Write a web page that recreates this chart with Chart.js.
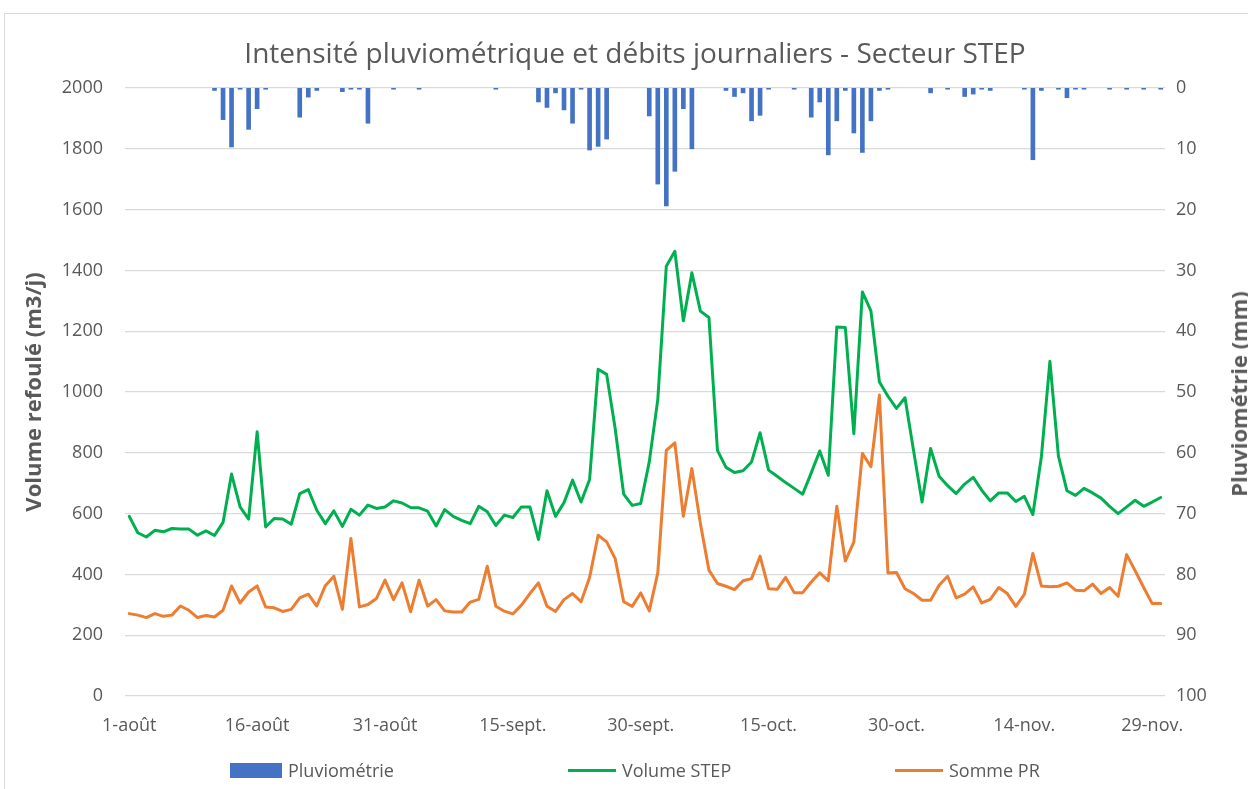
<!DOCTYPE html>
<html lang="fr">
<head>
<meta charset="utf-8">
<title>Intensité pluviométrique et débits journaliers - Secteur STEP</title>
<script src="https://cdn.jsdelivr.net/npm/chart.js@4.4.1/dist/chart.umd.min.js"></script>
<style>
  html, body { margin: 0; padding: 0; background: #fff; overflow: hidden; }
  #wrap { position: relative; width: 1248px; height: 789px; }
  #frame { position: absolute; left: 4px; top: 13px; width: 1400px; height: 900px; border: 1px solid #d9d9d9; box-sizing: border-box; }
  #my-chart { position: absolute; left: 0; top: 0; }
  #titre-droite { position: absolute; left: 1238px; top: 394px; transform: translate(-50%, -50%) rotate(-90deg);
    font: bold 22px "Open Sans", sans-serif; color: #595959; white-space: nowrap; }
  .legende { position: absolute; top: 758px; height: 24px; display: flex; align-items: center;
    font: 18px "Open Sans", sans-serif; color: #595959; white-space: nowrap; }
  .legende .marque { margin-right: 6px; }
</style>
</head>
<body>
<div id="wrap">
  <div id="frame"></div>
  <canvas id="my-chart" width="1248" height="789"></canvas>
  <div id="titre-droite">Pluviométrie (mm)</div>
  <div id="legende-zone"></div>
</div>
<script>
// jours du 1er août au 30 novembre
const mois = [['août', 31], ['sept.', 30], ['oct.', 31], ['nov.', 30]];
const jours = [];
mois.forEach(([nom, n]) => { for (let d = 1; d <= n; d++) jours.push(d + '-' + nom); });
const pasEtiquettes = 15; // une étiquette tous les 15 jours

// pluie journalière (mm)
const pluviometrie = [
  0, 0, 0, 0, 0, 0, 0, 0, 0, 0,
  0.4, 5.2, 9.7, 0.2, 6.8, 3.4, 0.2, 0, 0, 0,
  4.8, 1.5, 0.4, 0, 0, 0.6, 0.2, 0.2, 5.8, 0,
  0, 0.2, 0, 0, 0.2, 0, 0, 0, 0, 0,
  0, 0, 0, 0.2, 0, 0, 0, 0, 2.3, 3.2,
  0.8, 3.6, 5.8, 0.2, 10.2, 9.6, 8.4, 0, 0, 0,
  0, 4.6, 15.8, 19.4, 13.7, 3.4, 10.0, 0, 0, 0,
  0.4, 1.4, 0.8, 5.4, 4.5, 0.2, 0, 0, 0.2, 0,
  4.8, 2.3, 11.0, 5.4, 0.4, 7.4, 10.6, 5.4, 0.4, 0.2,
  0, 0, 0, 0, 0.8, 0, 0.2, 0, 1.4, 1.0,
  0.2, 0.4, 0, 0, 0, 0.2, 11.8, 0.4, 0, 0.2,
  1.6, 0.2, 0.2, 0, 0, 0.2, 0, 0.2, 0, 0.2,
  0, 0.2
];

// volume refoulé à la STEP (m3/j)
const volumeStep = [
  591, 537, 523, 545, 540, 551, 549, 549, 529, 543,
  528, 571, 730, 622, 582, 869, 556, 584, 582, 565,
  666, 679, 611, 567, 609, 558, 614, 595, 628, 617,
  622, 642, 635, 620, 619, 608, 559, 613, 591, 578,
  567, 624, 606, 561, 595, 587, 622, 622, 515, 675,
  591, 636, 710, 638, 712, 1075, 1058, 880, 664, 627,
  633, 770, 975, 1414, 1463, 1234, 1392, 1266, 1245, 808,
  752, 735, 741, 770, 866, 743, 723, 702, 683, 664,
  734, 806, 726, 1214, 1212, 863, 1329, 1267, 1033, 986,
  946, 981, 808, 638, 814, 723, 692, 666, 697, 719,
  677, 642, 668, 668, 640, 657, 597, 787, 1101, 789,
  675, 660, 683, 668, 651, 624, 600, 622, 644, 624,
  638, 653
];

// somme des postes de refoulement (m3/j)
const sommePR = [
  271, 266, 258, 271, 262, 266, 296, 282, 258, 265,
  260, 282, 362, 306, 342, 362, 293, 290, 278, 285,
  323, 335, 296, 363, 394, 285, 518, 293, 301, 321,
  381, 317, 372, 277, 381, 296, 317, 280, 276, 276,
  309, 318, 427, 295, 279, 270, 299, 337, 372, 295,
  278, 317, 337, 310, 390, 529, 507, 452, 310, 295,
  339, 280, 405, 808, 833, 591, 748, 567, 414, 370,
  361, 350, 379, 386, 460, 353, 351, 390, 340, 340,
  375, 405, 379, 624, 444, 507, 798, 754, 990, 405,
  406, 353, 337, 315, 315, 364, 394, 323, 335, 359,
  306, 318, 357, 337, 295, 334, 469, 362, 359, 361,
  372, 348, 346, 368, 337, 357, 328, 465, 412, 357,
  304, 304
];

Chart.defaults.font.family = '"Open Sans", sans-serif';
Chart.defaults.color = '#595959';

const ctx = document.getElementById('my-chart').getContext('2d');
const chart = new Chart(ctx, {
  data: {
    labels: jours,
    datasets: [
      {
        type: 'line',
        label: 'Volume STEP',
        data: volumeStep,
        yAxisID: 'y',
        borderColor: '#00B050',
        backgroundColor: '#00B050',
        borderWidth: 3,
        pointRadius: 0,
        borderJoinStyle: 'round',
        borderCapStyle: 'round',
        order: 1
      },
      {
        type: 'line',
        label: 'Somme PR',
        data: sommePR,
        yAxisID: 'y',
        borderColor: '#ED7D31',
        backgroundColor: '#ED7D31',
        borderWidth: 3,
        pointRadius: 0,
        borderJoinStyle: 'round',
        borderCapStyle: 'round',
        order: 2
      },
      {
        type: 'bar',
        label: 'Pluviométrie',
        // les jours sans pluie ne dessinent rien
        data: pluviometrie.map(v => (v > 0 ? v : null)),
        yAxisID: 'yPluie',
        backgroundColor: '#4472C4',
        barThickness: 4,
        order: 3
      }
    ]
  },
  options: {
    responsive: false,
    animation: false,
    layout: { padding: { left: 22, right: 0, top: 0, bottom: 48 } },
    plugins: {
      legend: { display: false },
      tooltip: { enabled: false },
      title: {
        display: true,
        text: 'Intensité pluviométrique et débits journaliers - Secteur STEP',
        font: { size: 28, weight: 'normal' },
        color: '#595959',
        padding: { top: 38, bottom: 16.4 }
      }
    },
    scales: {
      x: {
        type: 'category',
        offset: true,
        grid: { display: false },
        border: { display: false },
        ticks: {
          autoSkip: false,
          maxRotation: 0,
          padding: 11,
          font: { size: 18 },
          callback: (val, i) => (i % pasEtiquettes === 0 ? jours[i] : null)
        },
        afterFit: (scale) => { scale.height = 45; }
      },
      y: {
        position: 'left',
        min: 0,
        max: 2000,
        ticks: { stepSize: 200, padding: 22, font: { size: 18 }, callback: (v) => String(v) },
        grid: { color: '#d9d9d9', lineWidth: 1.3, drawTicks: false },
        border: { display: false },
        title: {
          display: true,
          text: 'Volume refoulé (m3/j)',
          font: { size: 22, weight: 'bold' },
          color: '#595959',
          padding: { top: 0, bottom: 0 }
        },
        afterFit: (scale) => { scale.width = 103; }
      },
      yPluie: {
        position: 'right',
        min: 0,
        max: 100,
        reverse: true,
        ticks: { stepSize: 10, padding: 11, font: { size: 18 } },
        grid: { display: false, drawTicks: false },
        border: { display: false },
        afterFit: (scale) => { scale.width = 83; }
      }
    }
  }
});

// légende en bas, construite à partir des séries
const zone = document.getElementById('legende-zone');
const positions = { 'Pluviométrie': 230, 'Volume STEP': 568, 'Somme PR': 895 };
['Pluviométrie', 'Volume STEP', 'Somme PR'].forEach(nom => {
  const ds = chart.data.datasets.find(d => d.label === nom);
  const item = document.createElement('div');
  item.className = 'legende';
  item.style.left = positions[nom] + 'px';
  const marque = document.createElement('span');
  marque.className = 'marque';
  if (ds.type === 'bar') {
    marque.style.cssText = 'display:inline-block;width:52px;height:15px;background:' + ds.backgroundColor;
  } else {
    marque.style.cssText = 'display:inline-block;width:48px;height:3px;background:' + ds.borderColor;
  }
  item.appendChild(marque);
  item.appendChild(document.createTextNode(nom));
  zone.appendChild(item);
});
</script>
</body>
</html>
